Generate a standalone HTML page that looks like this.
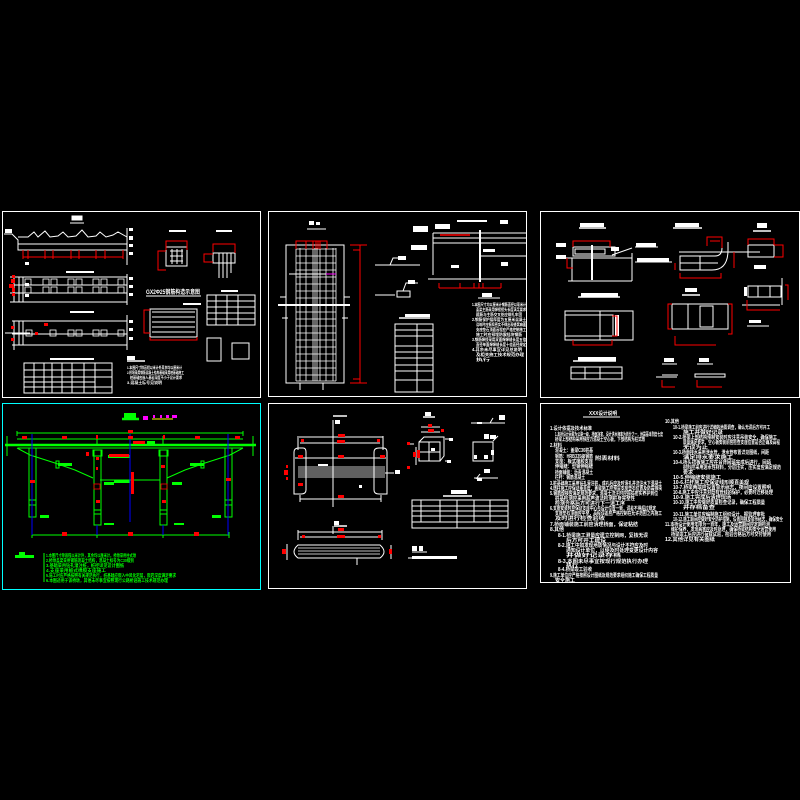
<!DOCTYPE html>
<html><head><meta charset="utf-8"><style>
html,body{margin:0;padding:0;background:#000;width:800px;height:800px;overflow:hidden}
svg{display:block}
text{font-family:"Liberation Sans","Noto Sans CJK SC",sans-serif;font-weight:bold}
</style></head><body>
<svg width="800" height="800" viewBox="0 0 800 800" xmlns="http://www.w3.org/2000/svg">
<rect width="800" height="800" fill="#000"/>
<g fill="none" stroke="#fff" stroke-width="1">
<rect x="2.5" y="211.5" width="258" height="186"/>
<rect x="268.5" y="211.5" width="258" height="185"/>
<rect x="540.5" y="211.5" width="259" height="186"/>
<rect x="268.5" y="403.5" width="258" height="185"/>
<rect x="540.5" y="403.5" width="250" height="179"/>
</g>
<rect x="2.5" y="403.5" width="258" height="186" fill="none" stroke="#0ff" stroke-width="1"/>

<!-- PANEL 1 -->
<g stroke="#fff" stroke-width="1" fill="none">
<rect x="72" y="216" width="10" height="4" fill="#fff"/>
<line x1="70" y1="223" x2="84" y2="223"/>
<polyline points="4,234 12,234 18,240 18,250 127,250"/>
<polyline points="18,237 28,237 34,232 38,237 45,231 50,237 58,236 63,232 68,237 76,236 82,230 88,237 96,236 100,232 106,237 113,235 118,232 127,237"/>
<line x1="18" y1="244" x2="127" y2="244"/>
<line x1="127" y1="228" x2="127" y2="265"/>
<line x1="10" y1="277" x2="127" y2="277"/><line x1="10" y1="302" x2="127" y2="302"/>
<line x1="10" y1="285" x2="127" y2="285"/><line x1="10" y1="293" x2="127" y2="293"/>
<line x1="14" y1="277" x2="14" y2="302"/><line x1="19" y1="277" x2="19" y2="302"/><line x1="23" y1="277" x2="23" y2="302"/>
<line x1="127" y1="274" x2="127" y2="305"/>
<line x1="12" y1="321" x2="127" y2="321"/><line x1="12" y1="345" x2="127" y2="345"/>
<line x1="12" y1="334" x2="127" y2="334"/>
<line x1="14" y1="321" x2="14" y2="350"/><line x1="19" y1="321" x2="19" y2="345"/><line x1="23" y1="321" x2="23" y2="345"/>
<line x1="127" y1="315" x2="127" y2="350"/>
<line x1="5" y1="333" x2="30" y2="333"/>
<rect x="24" y="363" width="88" height="30"/>
<line x1="24" y1="370" x2="112" y2="370"/><line x1="24" y1="377" x2="112" y2="377"/><line x1="24" y1="382" x2="95" y2="382"/><line x1="24" y1="387" x2="112" y2="387"/>
<line x1="34" y1="363" x2="34" y2="393"/><line x1="44" y1="363" x2="44" y2="393"/><line x1="52" y1="363" x2="52" y2="393"/><line x1="62" y1="363" x2="62" y2="393"/><line x1="72" y1="363" x2="72" y2="393"/><line x1="84" y1="363" x2="84" y2="393"/><line x1="95" y1="363" x2="95" y2="393"/>
<line x1="50" y1="359" x2="94" y2="359" stroke-width="2"/>
<line x1="70" y1="312" x2="94" y2="312" stroke-width="2"/>
<line x1="66" y1="272" x2="94" y2="272" stroke-width="2"/>
<rect x="166" y="247" width="21" height="19"/>
<line x1="170" y1="251" x2="183" y2="251"/><line x1="170" y1="256" x2="183" y2="256"/><line x1="170" y1="261" x2="183" y2="261"/>
<line x1="172" y1="249" x2="172" y2="264"/><line x1="177" y1="249" x2="177" y2="264"/><line x1="182" y1="249" x2="182" y2="264"/>
<rect x="213" y="253" width="22" height="10"/>
<line x1="219" y1="253" x2="219" y2="278"/><line x1="223" y1="253" x2="223" y2="278"/><line x1="227" y1="253" x2="227" y2="278"/><line x1="231" y1="253" x2="231" y2="273"/>
<line x1="169" y1="231" x2="186" y2="231" stroke-width="2"/><line x1="216" y1="231" x2="232" y2="231" stroke-width="2"/>
<line x1="146" y1="296" x2="201" y2="296"/>
<rect x="150" y="309" width="47" height="28"/>
<line x1="152" y1="312" x2="195" y2="312"/><line x1="152" y1="317" x2="195" y2="317"/><line x1="152" y1="322" x2="195" y2="322"/><line x1="152" y1="327" x2="195" y2="327"/><line x1="152" y1="332" x2="195" y2="332"/>
<line x1="183" y1="304" x2="201" y2="304" stroke-width="2"/>
<rect x="207" y="295" width="48" height="30"/>
<line x1="207" y1="301" x2="255" y2="301"/><line x1="207" y1="307" x2="255" y2="307"/><line x1="207" y1="313" x2="255" y2="313"/><line x1="207" y1="319" x2="255" y2="319"/>
<line x1="216" y1="295" x2="216" y2="325"/><line x1="227" y1="295" x2="227" y2="325"/><line x1="238" y1="295" x2="238" y2="325"/>
<line x1="221" y1="291" x2="238" y2="291" stroke-width="2"/>
<rect x="207" y="338" width="14" height="23"/>
<rect x="232" y="343" width="17" height="16"/>
<line x1="127" y1="361" x2="145" y2="361" stroke-width="1.5"/>
</g>
<g fill="#fff">
<rect x="25" y="262" width="4" height="3"/><rect x="25" y="283" width="4" height="3"/><rect x="25" y="294" width="4" height="3"/>
<rect x="129" y="228" width="4" height="3"/><rect x="129" y="236" width="4" height="4"/><rect x="129" y="244" width="4" height="3"/><rect x="129" y="252" width="4" height="3"/>
<rect x="129" y="277" width="4" height="3"/><rect x="129" y="285" width="4" height="3"/><rect x="129" y="293" width="4" height="3"/>
<rect x="129" y="320" width="4" height="3"/><rect x="129" y="328" width="4" height="3"/><rect x="129" y="337" width="4" height="3"/>
<rect x="5" y="229" width="7" height="4"/>
<rect x="127" y="356" width="8" height="4"/>
</g>
<g fill="none" stroke="#fff" stroke-width="0.8">
<rect x="25" y="279" width="6" height="6"/><rect x="25" y="287" width="6" height="6"/>
<rect x="43" y="279" width="6" height="6"/><rect x="51" y="279" width="6" height="6"/><rect x="43" y="287" width="6" height="6"/><rect x="51" y="287" width="6" height="6"/>
<rect x="68" y="279" width="6" height="6"/><rect x="76" y="279" width="6" height="6"/><rect x="68" y="287" width="6" height="6"/><rect x="76" y="287" width="6" height="6"/>
<rect x="93" y="279" width="6" height="6"/><rect x="101" y="279" width="6" height="6"/><rect x="93" y="287" width="6" height="6"/><rect x="101" y="287" width="6" height="6"/>
<rect x="118" y="279" width="6" height="6"/><rect x="118" y="287" width="6" height="6"/>
<rect x="26" y="330" width="6" height="6"/><rect x="50" y="330" width="6" height="6"/><rect x="68" y="330" width="6" height="6"/><rect x="76" y="330" width="6" height="6"/><rect x="93" y="330" width="6" height="6"/><rect x="101" y="330" width="6" height="6"/><rect x="118" y="330" width="6" height="6"/>
</g>
<g stroke="#f00" stroke-width="1" fill="none">
<line x1="23" y1="257" x2="123" y2="257"/>
<line x1="23" y1="250" x2="23" y2="259"/><line x1="28" y1="250" x2="28" y2="259"/><line x1="45" y1="250" x2="45" y2="259"/><line x1="53" y1="250" x2="53" y2="259"/><line x1="71" y1="250" x2="71" y2="259"/><line x1="79" y1="250" x2="79" y2="259"/><line x1="96" y1="250" x2="96" y2="259"/><line x1="105" y1="250" x2="105" y2="259"/><line x1="123" y1="250" x2="123" y2="259"/>
<polyline points="166,250 166,241 187,241 187,250"/>
<polyline points="166,251 158,251 158,270 166,270"/>
<polyline points="213,252 213,244 235,244 235,253"/>
<polyline points="213,254 204,254 204,262 213,262"/>
<polyline points="150,310 144,310 144,333 150,333"/>
<polyline points="150,337 150,340 197,340 197,337"/>
</g>
<g fill="#f00">
<rect x="11" y="279" width="4" height="4"/><rect x="9" y="284" width="5" height="4"/><rect x="12" y="288" width="3" height="4"/>
<rect x="12" y="275" width="3" height="3"/><rect x="12" y="293" width="3" height="3"/>
<rect x="11" y="326" width="3" height="3"/><rect x="11" y="338" width="3" height="3"/>
<rect x="44" y="323" width="4" height="3"/><rect x="35" y="332" width="3" height="3"/>
</g>
<g fill="#fff" font-size="4">
<text x="127" y="369" textLength="55" lengthAdjust="spacingAndGlyphs">1.本图尺寸除高程以米计外其余均以厘米计</text>
<text x="127" y="374" textLength="57" lengthAdjust="spacingAndGlyphs">2.桥墩采用钢筋混凝土结构基础采用桩基础施工</text>
<text x="130" y="379" textLength="52" lengthAdjust="spacingAndGlyphs">桩基础应嵌入基岩深度不小于设计要求</text>
<text x="127" y="384" textLength="35" lengthAdjust="spacingAndGlyphs">3.混凝土标号见说明</text>
<text x="146" y="294" font-size="6" textLength="54" lengthAdjust="spacingAndGlyphs">GX2Φ25钢筋构造示意图</text>
</g>

<!-- PANEL 4 -->
<g stroke="#0f0" fill="none" stroke-width="1">
<line x1="17" y1="433" x2="243" y2="433"/>
<line x1="17" y1="439" x2="243" y2="439"/>
<line x1="17" y1="431" x2="17" y2="436"/><line x1="243" y1="431" x2="243" y2="436"/>
<line x1="5" y1="445" x2="256" y2="445" stroke-width="2.5"/>
<line x1="18" y1="448" x2="243" y2="448"/>
<line x1="7" y1="436" x2="7" y2="456"/><line x1="253" y1="436" x2="253" y2="456"/>
<rect x="29" y="448" width="7" height="69"/>
<rect x="94" y="450" width="7" height="75"/>
<rect x="160" y="450" width="7" height="75"/>
<rect x="225" y="448" width="7" height="69"/>
<line x1="29" y1="500" x2="36" y2="500"/><line x1="29" y1="505" x2="36" y2="505"/>
<line x1="225" y1="500" x2="232" y2="500"/><line x1="225" y1="505" x2="232" y2="505"/>
<line x1="94" y1="510" x2="101" y2="510"/><line x1="94" y1="514" x2="101" y2="514"/>
<line x1="160" y1="510" x2="167" y2="510"/><line x1="160" y1="514" x2="167" y2="514"/>
<rect x="93" y="450" width="9" height="6"/><rect x="159" y="450" width="9" height="6"/>
<polyline points="17,448 30,455 55,463 75,470 93,478"/>
<polyline points="243,448 230,455 205,463 185,470 167,478"/>
<rect x="56" y="461" width="3" height="7"/><rect x="201" y="461" width="3" height="7"/>
<line x1="100" y1="480" x2="160" y2="480"/>
<line x1="32" y1="535" x2="229" y2="535"/>
<line x1="32" y1="532" x2="32" y2="538"/><line x1="97" y1="532" x2="97" y2="538"/><line x1="163" y1="532" x2="163" y2="538"/><line x1="229" y1="532" x2="229" y2="538"/>
<line x1="97" y1="436" x2="97" y2="444"/><line x1="163" y1="436" x2="163" y2="444"/>
<line x1="44" y1="553" x2="44" y2="582"/>
<line x1="122" y1="419" x2="139" y2="419" stroke-width="2.5"/>
</g>
<g fill="#0f0">
<rect x="124" y="413" width="12" height="5"/>
<rect x="15" y="555" width="19" height="3"/><rect x="19" y="552" width="6" height="3"/>
<rect x="58" y="463" width="14" height="3"/><rect x="190" y="463" width="14" height="3"/>
<rect x="108" y="455" width="22" height="3"/><rect x="114" y="480" width="16" height="3"/><rect x="104" y="482" width="10" height="3"/><rect x="172" y="482" width="10" height="3"/>
<rect x="40" y="515" width="9" height="3"/><rect x="212" y="515" width="9" height="3"/>
<rect x="104" y="523" width="10" height="2"/><rect x="174" y="523" width="10" height="2"/>
<rect x="147" y="441" width="8" height="3"/>
</g>
<g stroke="#00f" stroke-width="1">
<line x1="32" y1="434" x2="32" y2="535"/>
<line x1="130" y1="434" x2="130" y2="522"/>
<line x1="228" y1="434" x2="228" y2="535"/>
<line x1="97" y1="525" x2="97" y2="535"/><line x1="163" y1="525" x2="163" y2="535"/>
</g>
<g fill="#f00">
<rect x="22" y="436" width="5" height="3"/><rect x="62" y="436" width="5" height="3"/><rect x="96" y="435" width="2" height="4"/><rect x="128" y="436" width="5" height="3"/><rect x="163" y="435" width="2" height="4"/><rect x="195" y="436" width="5" height="3"/><rect x="235" y="436" width="5" height="3"/>
<rect x="128" y="430" width="5" height="3"/>
<rect x="133" y="441" width="12" height="3"/>
<rect x="30" y="480" width="5" height="3"/><rect x="226" y="478" width="5" height="3"/>
<rect x="96" y="457" width="3" height="3"/><rect x="96" y="467" width="2" height="3"/><rect x="161" y="465" width="4" height="3"/>
<rect x="96" y="500" width="4" height="3"/><rect x="162" y="500" width="4" height="3"/>
<rect x="131" y="472" width="3" height="22"/>
<rect x="109" y="454" width="20" height="3"/>
<rect x="62" y="532" width="5" height="4"/><rect x="128" y="532" width="5" height="4"/><rect x="194" y="532" width="5" height="4"/>
<rect x="86" y="452" width="3" height="4"/>
</g>
<g fill="none" stroke="#f00" stroke-width="0.8"><rect x="94" y="484" width="6" height="5"/><rect x="161" y="484" width="6" height="5"/></g>
<g fill="#f0f"><rect x="143" y="416" width="5" height="4"/><rect x="153" y="415" width="2" height="3"/><rect x="160" y="415" width="2" height="3"/><rect x="166" y="415" width="3" height="3"/><rect x="172" y="415" width="5" height="3"/></g>
<line x1="152" y1="419" x2="173" y2="419" stroke="#ff0" stroke-width="1"/>
<g fill="#0f0" font-size="4.5">
<text x="46" y="557" textLength="90" lengthAdjust="spacingAndGlyphs">1.本图尺寸除高程以米计外，其余均以厘米计。桥墩采用柱式墩</text>
<text x="46" y="562" textLength="88" lengthAdjust="spacingAndGlyphs">2.桥墩盖梁采用钢筋混凝土结构，混凝土标号为C30级别</text>
<text x="46" y="567" textLength="78" lengthAdjust="spacingAndGlyphs">3.基础采用钻孔灌注桩，桩径详见设计图纸</text>
<text x="46" y="572" textLength="60" lengthAdjust="spacingAndGlyphs">4.支座采用板式橡胶支座施工</text>
<text x="46" y="577" textLength="130" lengthAdjust="spacingAndGlyphs">5.施工时应严格按照有关规范执行，桩基础应嵌入中风化岩层，嵌岩深度满足要求</text>
<text x="46" y="582" textLength="122" lengthAdjust="spacingAndGlyphs">6.本图适用于该桥墩，其他未尽事宜按照现行公路桥涵施工技术规范办理</text>
</g>

<!-- PANEL 2 -->
<g stroke="#fff" fill="none" stroke-width="1">
<line x1="307" y1="229" x2="326" y2="229"/>
<rect x="286" y="245" width="58" height="138"/>
<g stroke-width="0.8">
<line x1="296" y1="248" x2="296" y2="381"/><line x1="300" y1="248" x2="300" y2="381"/><line x1="306" y1="248" x2="306" y2="381"/><line x1="313" y1="248" x2="313" y2="381"/><line x1="315" y1="248" x2="315" y2="381"/><line x1="317" y1="248" x2="317" y2="381"/><line x1="320" y1="248" x2="320" y2="381"/><line x1="326" y1="248" x2="326" y2="381"/><line x1="333" y1="248" x2="333" y2="381"/><line x1="336" y1="248" x2="336" y2="381"/>
<line x1="296" y1="249" x2="336" y2="249"/><line x1="296" y1="256" x2="336" y2="256"/><line x1="296" y1="263" x2="336" y2="263"/><line x1="296" y1="270" x2="336" y2="270"/><line x1="296" y1="277" x2="336" y2="277"/><line x1="296" y1="284" x2="336" y2="284"/><line x1="296" y1="291" x2="336" y2="291"/><line x1="296" y1="298" x2="336" y2="298"/><line x1="296" y1="312" x2="336" y2="312"/><line x1="296" y1="319" x2="336" y2="319"/><line x1="296" y1="326" x2="336" y2="326"/><line x1="296" y1="333" x2="336" y2="333"/><line x1="296" y1="340" x2="336" y2="340"/><line x1="296" y1="347" x2="336" y2="347"/><line x1="296" y1="354" x2="336" y2="354"/><line x1="296" y1="361" x2="336" y2="361"/><line x1="296" y1="368" x2="336" y2="368"/><line x1="296" y1="375" x2="336" y2="375"/><line x1="296" y1="381" x2="336" y2="381"/>
</g>
<line x1="278" y1="305" x2="350" y2="305" stroke-width="2"/>
<line x1="289" y1="274" x2="330" y2="274"/>
<line x1="280" y1="297" x2="286" y2="297"/><line x1="344" y1="297" x2="350" y2="297"/>
<line x1="282" y1="318" x2="288" y2="318"/><line x1="342" y1="318" x2="348" y2="318"/>
<line x1="300" y1="383" x2="300" y2="390"/><line x1="323" y1="383" x2="323" y2="390"/>
<line x1="375" y1="265" x2="420" y2="265"/><polyline points="390,265 393,258 400,258"/>
<line x1="375" y1="295" x2="395" y2="295"/><rect x="397" y="291" width="13" height="6"/><polyline points="403,291 406,283 418,283"/>
<line x1="433" y1="233" x2="527" y2="233"/><line x1="433" y1="238" x2="527" y2="238"/>
<line x1="433" y1="243" x2="527" y2="243"/>
<line x1="433" y1="233" x2="433" y2="275"/>
<line x1="480" y1="230" x2="480" y2="282" stroke-width="2"/>
<line x1="480" y1="256" x2="527" y2="256"/>
<line x1="428" y1="279" x2="527" y2="279"/>
<line x1="457" y1="221" x2="487" y2="221" stroke-width="2"/>
<rect x="395" y="324" width="38" height="68"/>
<line x1="395" y1="330" x2="433" y2="330"/><line x1="395" y1="336" x2="433" y2="336"/><line x1="395" y1="346" x2="433" y2="346"/><line x1="395" y1="352" x2="433" y2="352"/><line x1="395" y1="358" x2="433" y2="358"/><line x1="395" y1="365" x2="433" y2="365"/><line x1="395" y1="371" x2="433" y2="371"/><line x1="395" y1="380" x2="433" y2="380"/>
<line x1="417" y1="324" x2="417" y2="392"/>
<line x1="399" y1="318" x2="430" y2="318" stroke-width="1.5"/>
<line x1="478" y1="298" x2="500" y2="298"/>
</g>
<g fill="#fff">
<rect x="309" y="221" width="5" height="4"/><rect x="316" y="222" width="4" height="3"/>
<rect x="435" y="224" width="15" height="5"/><rect x="413" y="226" width="15" height="6"/><rect x="411" y="245" width="16" height="5"/>
<rect x="500" y="220" width="8" height="4"/>
<rect x="451" y="265" width="8" height="3"/><rect x="501" y="262" width="7" height="4"/>
<rect x="398" y="256" width="8" height="4"/><rect x="408" y="280" width="7" height="4"/>
<rect x="405" y="314" width="25" height="3"/>
<rect x="483" y="249" width="12" height="3"/>
<rect x="482" y="293" width="10" height="4"/>
</g>
<g stroke="#f00" fill="none" stroke-width="1">
<polyline points="296,249 296,241 327,241 327,249"/>
<line x1="306" y1="241" x2="306" y2="249"/><line x1="313" y1="241" x2="313" y2="249"/><line x1="316" y1="241" x2="316" y2="249"/><line x1="318" y1="241" x2="318" y2="249"/><line x1="320" y1="241" x2="320" y2="249"/>
<line x1="360" y1="245" x2="360" y2="383"/><line x1="350" y1="245" x2="367" y2="245"/><line x1="350" y1="383" x2="367" y2="383"/><line x1="353" y1="250" x2="360" y2="250"/><line x1="353" y1="379" x2="360" y2="379"/>
<line x1="439" y1="288" x2="501" y2="288"/>
<line x1="439" y1="283" x2="439" y2="288"/><line x1="460" y1="283" x2="460" y2="288"/><line x1="474" y1="283" x2="474" y2="288"/><line x1="479" y1="283" x2="479" y2="288"/><line x1="483" y1="283" x2="483" y2="288"/><line x1="501" y1="283" x2="501" y2="288"/>
</g>
<line x1="326" y1="274" x2="336" y2="274" stroke="#f0f" stroke-width="1"/>
<line x1="440" y1="235" x2="470" y2="235" stroke="#f00" stroke-width="1.5"/>
<g fill="#fff" font-size="4.2">
<text x="472" y="306" textLength="54" lengthAdjust="spacingAndGlyphs">1.本图尺寸均以厘米计钢筋直径以毫米计</text>
<text x="476" y="311" textLength="50" lengthAdjust="spacingAndGlyphs">盖梁主筋采用焊接接头长度满足要求</text>
<text x="476" y="316" textLength="46" lengthAdjust="spacingAndGlyphs">箍筋与主筋交叉处应绑扎牢固</text>
<text x="472" y="321" textLength="54" lengthAdjust="spacingAndGlyphs">2.钢筋保护层厚度为五厘米混凝土</text>
<text x="476" y="326" textLength="50" lengthAdjust="spacingAndGlyphs">浇筑时应振捣密实不得出现蜂窝麻面</text>
<text x="476" y="331" textLength="50" lengthAdjust="spacingAndGlyphs">支座垫石顶面高程应严格控制施工</text>
<text x="476" y="336" textLength="46" lengthAdjust="spacingAndGlyphs">施工时应预埋防震挡块钢筋</text>
<text x="472" y="341" textLength="54" lengthAdjust="spacingAndGlyphs">3.钢筋焊接采用双面焊焊缝长度五倍</text>
<text x="476" y="346" textLength="50" lengthAdjust="spacingAndGlyphs">直径单面焊焊缝长度十倍直径规定</text>
<text x="472" y="351" textLength="50" lengthAdjust="spacingAndGlyphs">4.其余未尽事宜详见总说明</text>
<text x="476" y="356" textLength="48" lengthAdjust="spacingAndGlyphs">及相关施工技术规范办理</text>
<text x="476" y="361" textLength="14" lengthAdjust="spacingAndGlyphs">执行</text>
</g>

<!-- PANEL 3 -->
<g stroke="#fff" fill="none" stroke-width="1">
<line x1="579" y1="228" x2="606" y2="228" stroke-width="1.5"/>
<line x1="673" y1="228" x2="702" y2="228" stroke-width="1.5"/>
<line x1="753" y1="231" x2="771" y2="231" stroke-width="1.5"/>
<rect x="573" y="247" width="42" height="9"/>
<rect x="575" y="249" width="30" height="5"/>
<line x1="565" y1="258" x2="632" y2="258"/>
<line x1="572" y1="258" x2="572" y2="281"/>
<line x1="632" y1="253" x2="632" y2="281"/>
<line x1="592" y1="245" x2="592" y2="280" stroke-width="2"/>
<line x1="568" y1="281" x2="632" y2="281"/>
<line x1="612" y1="255" x2="632" y2="248"/>
<line x1="635" y1="247" x2="658" y2="247"/><line x1="635" y1="262" x2="672" y2="262"/>
<rect x="565" y="311" width="68" height="29"/>
<rect x="565" y="315" width="48" height="21"/>
<line x1="600" y1="311" x2="600" y2="340"/>
<line x1="578" y1="297" x2="620" y2="297" stroke-width="1.5"/>
<rect x="571" y="367" width="51" height="12"/>
<line x1="571" y1="373" x2="622" y2="373"/><line x1="585" y1="367" x2="585" y2="379"/><line x1="600" y1="367" x2="600" y2="379"/>
<line x1="573" y1="361" x2="616" y2="361" stroke-width="1.5"/>
<rect x="680" y="256" width="20" height="14"/>
<line x1="680" y1="263" x2="718" y2="263"/>
<path d="M700,256 L715,256 Q722,256 722,248 L722,242 M700,270 L712,270 Q728,270 728,250 L728,242"/>
<line x1="679" y1="252" x2="760" y2="252"/>
<rect x="672" y="304" width="56" height="25"/>
<rect x="700" y="306" width="13" height="21"/>
<line x1="688" y1="304" x2="688" y2="329"/>
<line x1="682" y1="295" x2="700" y2="295" stroke-width="1.5"/>
<rect x="748" y="245" width="26" height="12"/>
<rect x="748" y="286" width="33" height="11"/>
<line x1="758" y1="286" x2="758" y2="297"/><line x1="770" y1="286" x2="770" y2="297"/>
<line x1="742" y1="305" x2="780" y2="305"/>
<line x1="782" y1="278" x2="782" y2="305"/>
<line x1="747" y1="326" x2="769" y2="326"/>
<line x1="656" y1="377" x2="677" y2="377"/><line x1="696" y1="377" x2="723" y2="377"/>
<line x1="662" y1="375" x2="678" y2="375"/>
<line x1="662" y1="364" x2="677" y2="364"/><line x1="697" y1="364" x2="713" y2="364"/>
<rect x="695" y="374" width="30" height="3"/>
</g>
<g fill="#fff">
<rect x="580" y="223" width="24" height="4"/><rect x="675" y="223" width="24" height="4"/><rect x="757" y="223" width="10" height="5"/>
<rect x="556" y="243" width="10" height="4"/><rect x="556" y="255" width="10" height="4"/>
<rect x="611" y="247" width="8" height="4"/><rect x="636" y="243" width="20" height="4"/><rect x="637" y="258" width="32" height="4"/>
<rect x="581" y="293" width="37" height="4"/>
<rect x="578" y="357" width="38" height="4"/>
<rect x="754" y="265" width="12" height="4"/>
<rect x="749" y="320" width="12" height="3"/>
<rect x="664" y="358" width="10" height="4"/><rect x="699" y="358" width="10" height="4"/>
<rect x="685" y="288" width="12" height="4"/>
<rect x="744" y="287" width="3" height="9"/><rect x="615" y="315" width="4" height="21"/>
</g>
<g stroke="#f00" fill="none" stroke-width="1">
<polyline points="573,247 573,241 610,241 610,247"/>
<polyline points="567,258 567,268 573,268"/>
<polyline points="573,340 573,345 612,345 612,340"/>
<polyline points="612,316 617,316 617,336 612,336"/>
<polyline points="707,246 707,237 722,237 722,248"/>
<line x1="710" y1="241" x2="720" y2="241"/>
<polyline points="675,263 675,270"/>
<polyline points="680,273 680,278 721,278 721,273"/>
<polyline points="734,252 734,268"/>
<polyline points="672,304 668,304 668,329 672,329"/>
<polyline points="728,304 732,304 732,334 728,334"/>
<polyline points="675,336 675,345 716,345"/>
<polyline points="748,245 748,239 774,239 774,245"/>
<polyline points="774,245 783,245 783,257 774,257"/>
<polyline points="747,300 747,310 780,310"/>
<polyline points="785,285 788,285 788,300"/>
<polyline points="662,380 662,387 675,387"/>
<polyline points="697,380 697,387 722,387"/>
</g>

<!-- PANEL 5 -->
<g stroke="#fff" fill="none" stroke-width="1">
<line x1="333" y1="420" x2="333" y2="507"/>
<line x1="299" y1="437" x2="383" y2="437"/><line x1="300" y1="443" x2="380" y2="443"/>
<line x1="298" y1="436" x2="298" y2="450"/><line x1="383" y1="436" x2="383" y2="450"/>
<line x1="295" y1="458" x2="386" y2="458"/>
<path d="M294,452 Q294,448 299,448 L303,448 Q306,448 306,452 L306,490 Q306,494 301,494 L294,494 Z"/>
<path d="M374,452 Q374,448 379,448 L383,448 Q387,448 387,452 L387,494 L379,494 Q374,494 374,490 Z"/>
<g stroke-width="0.8">
<line x1="298" y1="467" x2="385" y2="467"/><line x1="298" y1="469" x2="385" y2="469"/><line x1="298" y1="471" x2="385" y2="471"/><line x1="298" y1="473" x2="385" y2="473"/><line x1="298" y1="475" x2="385" y2="475"/><line x1="298" y1="477" x2="385" y2="477"/>
</g>
<line x1="300" y1="499" x2="381" y2="499"/>
<line x1="300" y1="495" x2="300" y2="502"/><line x1="381" y1="495" x2="381" y2="502"/>
<line x1="385" y1="473" x2="394" y2="473"/>
<line x1="333" y1="526" x2="333" y2="534"/>
<line x1="298" y1="532" x2="382" y2="532"/><line x1="300" y1="537" x2="380" y2="537"/>
<line x1="298" y1="530" x2="298" y2="540"/><line x1="382" y1="530" x2="382" y2="540"/>
<path d="M298,545 L380,545 Q388,552 380,558 L298,558 Q290,552 298,545 Z"/>
<line x1="298" y1="548" x2="380" y2="548" stroke-width="0.8"/><line x1="298" y1="551" x2="380" y2="551" stroke-width="0.8"/><line x1="298" y1="554" x2="380" y2="554" stroke-width="0.8"/>
<line x1="287" y1="544" x2="287" y2="560"/><line x1="391" y1="545" x2="391" y2="559"/>
<line x1="357" y1="558" x2="357" y2="565"/>
<line x1="333" y1="416" x2="347" y2="416" stroke-width="1.5"/>
<line x1="334" y1="526" x2="347" y2="526" stroke-width="1.5"/>
<rect x="419" y="442" width="21" height="19"/>
<line x1="429" y1="442" x2="429" y2="461"/><line x1="419" y1="452" x2="440" y2="452"/>
<line x1="416" y1="447" x2="416" y2="465"/>
<polyline points="419,442 424,437 444,437 444,456 440,461"/>
<line x1="421" y1="427" x2="440" y2="427"/><line x1="421" y1="432" x2="440" y2="432"/>
<line x1="445" y1="439" x2="453" y2="439"/><line x1="445" y1="461" x2="451" y2="461"/>
<line x1="407" y1="444" x2="414" y2="444"/>
<line x1="423" y1="417" x2="435" y2="417" stroke-width="1.5"/>
<rect x="473" y="442" width="20" height="19"/>
<line x1="471" y1="423" x2="505" y2="423"/><line x1="490" y1="423" x2="493" y2="418"/>
<line x1="474" y1="478" x2="498" y2="478"/>
<line x1="493" y1="441" x2="498" y2="436"/><line x1="476" y1="479" x2="480" y2="474"/>
<rect x="412" y="500" width="96" height="28"/>
<line x1="412" y1="506" x2="508" y2="506"/><line x1="412" y1="511" x2="508" y2="511"/><line x1="412" y1="516" x2="508" y2="516"/><line x1="412" y1="522" x2="508" y2="522"/>
<line x1="421" y1="500" x2="421" y2="522"/><line x1="440" y1="500" x2="440" y2="522"/><line x1="457" y1="500" x2="457" y2="528"/><line x1="474" y1="500" x2="474" y2="522"/><line x1="490" y1="500" x2="490" y2="522"/>
<line x1="443" y1="496" x2="472" y2="496" stroke-width="1.5"/>
<line x1="412" y1="552" x2="427" y2="552"/>
<line x1="408" y1="558" x2="457" y2="558"/>
</g>
<g fill="#fff">
<rect x="335" y="420" width="5" height="4"/><rect x="334" y="521" width="5" height="4"/>
<rect x="318" y="464" width="10" height="2"/><rect x="395" y="470" width="5" height="4"/><rect x="359" y="485" width="3" height="3"/>
<rect x="425" y="412" width="6" height="4"/><rect x="431" y="448" width="4" height="3"/>
<rect x="449" y="438" width="4" height="3"/><rect x="447" y="460" width="4" height="3"/>
<rect x="499" y="415" width="6" height="5"/><rect x="490" y="435" width="6" height="4"/><rect x="484" y="434" width="5" height="5"/><rect x="484" y="455" width="4" height="4"/>
<rect x="474" y="455" width="3" height="4"/><rect x="491" y="450" width="3" height="5"/>
<rect x="484" y="469" width="6" height="4"/>
<rect x="477" y="422" width="5" height="2"/><rect x="477" y="478" width="5" height="3"/>
<rect x="451" y="490" width="16" height="4"/>
<rect x="412" y="546" width="5" height="5"/><rect x="419" y="546" width="4" height="5"/>
<rect x="412" y="556" width="45" height="3"/>
</g>
<g fill="#f00">
<rect x="338" y="434" width="7" height="3"/><rect x="337" y="440" width="8" height="3"/>
<rect x="301" y="439" width="3" height="3"/><rect x="377" y="439" width="3" height="3"/>
<rect x="298" y="455" width="5" height="3"/><rect x="338" y="455" width="6" height="3"/><rect x="380" y="455" width="5" height="3"/>
<rect x="298" y="483" width="5" height="3"/><rect x="338" y="495" width="6" height="3"/>
<rect x="284" y="470" width="4" height="5"/><rect x="286" y="465" width="2" height="3"/><rect x="286" y="477" width="2" height="3"/>
<rect x="338" y="528" width="6" height="3"/><rect x="337" y="535" width="8" height="3"/>
<rect x="302" y="535" width="3" height="3"/><rect x="378" y="535" width="3" height="3"/>
<rect x="282" y="549" width="4" height="5"/><rect x="389" y="549" width="3" height="5"/>
<rect x="428" y="424" width="4" height="3"/><rect x="428" y="429" width="6" height="3"/><rect x="441" y="429" width="3" height="3"/>
<rect x="413" y="452" width="3" height="5"/><rect x="417" y="450" width="3" height="8"/>
<rect x="407" y="442" width="3" height="3"/><rect x="407" y="466" width="3" height="3"/>
</g>

<!-- PANEL 6 -->
<line x1="583" y1="417" x2="620" y2="417" stroke="#fff" stroke-width="1"/>
<g fill="#fff" font-size="5">
<text x="589" y="415" textLength="28" lengthAdjust="spacingAndGlyphs">XXX设计说明</text>
<text x="550" y="430" textLength="42" lengthAdjust="spacingAndGlyphs">1.设计依据及技术标准</text>
<text x="555" y="436" textLength="108" lengthAdjust="spacingAndGlyphs">1.本桥设计荷载为公路一级，桥面净宽，设计洪水频率为百分之一，地震基本烈度七度</text>
<text x="555" y="441" textLength="90" lengthAdjust="spacingAndGlyphs">桥梁上部结构采用预应力混凝土空心板，下部结构为柱式墩</text>
<text x="550" y="447" textLength="12" lengthAdjust="spacingAndGlyphs">2.材料</text>
<text x="555" y="452" textLength="38" lengthAdjust="spacingAndGlyphs">混凝土：盖梁C30桩基</text>
<text x="555" y="458" textLength="38" lengthAdjust="spacingAndGlyphs">钢筋：HRB335级钢筋</text>
<text x="555" y="463" textLength="38" lengthAdjust="spacingAndGlyphs">支座：板式橡胶支座</text>
<text x="555" y="468" textLength="38" lengthAdjust="spacingAndGlyphs">伸缩缝：型钢伸缩缝</text>
<text x="555" y="474" textLength="38" lengthAdjust="spacingAndGlyphs">桥面铺装：沥青混凝土</text>
<text x="555" y="479" textLength="30" lengthAdjust="spacingAndGlyphs">栏杆：钢筋混凝土</text>
<text x="595" y="460" textLength="25" lengthAdjust="spacingAndGlyphs">附表材料</text>
<text x="550" y="485" textLength="112" lengthAdjust="spacingAndGlyphs">3.桩基础施工采用钻孔灌注桩，成孔后应及时清孔并浇注水下混凝土</text>
<text x="550" y="490" textLength="112" lengthAdjust="spacingAndGlyphs">4.墩柱施工应保证垂直度，盖梁施工应预留支座垫石位置及防震挡块</text>
<text x="550" y="495" textLength="108" lengthAdjust="spacingAndGlyphs">5.钢筋焊接应满足规范要求，混凝土浇注时应振捣密实养护到位</text>
<text x="555" y="500" textLength="80" lengthAdjust="spacingAndGlyphs">桩基检测应采用超声波法检测桩身完整性</text>
<text x="555" y="505" textLength="70" lengthAdjust="spacingAndGlyphs">检测合格后方可进行下一道工序</text>
<text x="550" y="510" textLength="106" lengthAdjust="spacingAndGlyphs">6.支座安装时应保证支座中心与设计位置一致，误差不得超过规定</text>
<text x="555" y="515" textLength="107" lengthAdjust="spacingAndGlyphs">支座垫石顶面应平整，高程误差应严格控制在允许范围之内施工</text>
<text x="555" y="520" textLength="50" lengthAdjust="spacingAndGlyphs">及时进行检查验收</text>
<text x="550" y="526" textLength="88" lengthAdjust="spacingAndGlyphs">7.桥面铺装施工前应清理桥面，保证粘结</text>
<text x="550" y="531" textLength="14" lengthAdjust="spacingAndGlyphs">8.其他</text>
<text x="558" y="537" textLength="90" lengthAdjust="spacingAndGlyphs">8-1.桥梁施工测量应建立控制网，复核无误</text>
<text x="566" y="542" textLength="40" lengthAdjust="spacingAndGlyphs">后方可开工建设</text>
<text x="558" y="547" textLength="90" lengthAdjust="spacingAndGlyphs">8-2.施工中如发现地质情况与设计不符应及时</text>
<text x="566" y="552" textLength="92" lengthAdjust="spacingAndGlyphs">通知设计单位，以便及时处理变更设计内容</text>
<text x="566" y="557" textLength="55" lengthAdjust="spacingAndGlyphs">并做好记录存档</text>
<text x="558" y="563" textLength="90" lengthAdjust="spacingAndGlyphs">8-3.本图未尽事宜按现行规范执行办理</text>
<text x="566" y="567" textLength="12" lengthAdjust="spacingAndGlyphs">执行</text>
<text x="558" y="571" textLength="34" lengthAdjust="spacingAndGlyphs">8-4.桥梁竣工验收</text>
<text x="550" y="577" textLength="108" lengthAdjust="spacingAndGlyphs">9.施工单位应严格按照设计图纸及规范要求组织施工确保工程质量</text>
<text x="555" y="582" textLength="20" lengthAdjust="spacingAndGlyphs">安全施工</text>
<text x="665" y="423" textLength="14" lengthAdjust="spacingAndGlyphs">10.其他</text>
<text x="673" y="429" textLength="97" lengthAdjust="spacingAndGlyphs">10-1.桥梁施工前应进行详细的地质调查，确认无误后方可开工</text>
<text x="683" y="434" textLength="40" lengthAdjust="spacingAndGlyphs">施工并做好记录</text>
<text x="673" y="439" textLength="104" lengthAdjust="spacingAndGlyphs">10-2.桥梁上部结构预制安装时应注意吊装安全，确保施工</text>
<text x="683" y="444" textLength="97" lengthAdjust="spacingAndGlyphs">质量满足要求，空心板安装前应检查支座位置是否正确及高程</text>
<text x="683" y="449" textLength="25" lengthAdjust="spacingAndGlyphs">无误为止</text>
<text x="673" y="454" textLength="96" lengthAdjust="spacingAndGlyphs">10-3.桥面排水采用泄水管，泄水管布置详见图纸，间距</text>
<text x="683" y="459" textLength="50" lengthAdjust="spacingAndGlyphs">满足排水要求施工</text>
<text x="673" y="464" textLength="98" lengthAdjust="spacingAndGlyphs">10-4.桥头搭板施工应在台背回填完成后进行，回填</text>
<text x="683" y="469" textLength="98" lengthAdjust="spacingAndGlyphs">材料应采用透水性材料，分层压实，压实度应满足规范</text>
<text x="683" y="474" textLength="10" lengthAdjust="spacingAndGlyphs">要求</text>
<text x="673" y="479" textLength="48" lengthAdjust="spacingAndGlyphs">10-5.伸缩缝安装施工</text>
<text x="673" y="484" textLength="76" lengthAdjust="spacingAndGlyphs">10-6.栏杆施工应保证线形顺直美观</text>
<text x="673" y="489" textLength="98" lengthAdjust="spacingAndGlyphs">10-7.桥梁两端应设置警示标志，夜间应设置照明</text>
<text x="673" y="494" textLength="100" lengthAdjust="spacingAndGlyphs">10-8.施工中应注意对既有管线的保护，必要时迁移处理</text>
<text x="673" y="499" textLength="58" lengthAdjust="spacingAndGlyphs">10-9.施工完成后清理现场</text>
<text x="673" y="504" textLength="92" lengthAdjust="spacingAndGlyphs">10-10.施工中应做好质量检查记录，确保工程质量</text>
<text x="683" y="509" textLength="32" lengthAdjust="spacingAndGlyphs">并存档备查</text>
<text x="673" y="516" textLength="92" lengthAdjust="spacingAndGlyphs">10-11.施工单位应编制施工组织设计，报监理审批</text>
<text x="673" y="521" textLength="110" lengthAdjust="spacingAndGlyphs">10-12.施工期间应做好安全防护措施，设置围挡及警示标志，确保安全</text>
<text x="665" y="526" textLength="105" lengthAdjust="spacingAndGlyphs">11.本桥设计使用年限为一百年，施工及运营期间应定期检测</text>
<text x="671" y="531" textLength="105" lengthAdjust="spacingAndGlyphs">维护保养，发现病害应及时处理，确保桥梁结构安全运营使用</text>
<text x="671" y="536" textLength="100" lengthAdjust="spacingAndGlyphs">桥梁竣工后应进行荷载试验，检验合格后方可交付使用</text>
<text x="665" y="541" textLength="50" lengthAdjust="spacingAndGlyphs">12.其他详见有关图纸</text>
</g>
</svg>
</body></html>
